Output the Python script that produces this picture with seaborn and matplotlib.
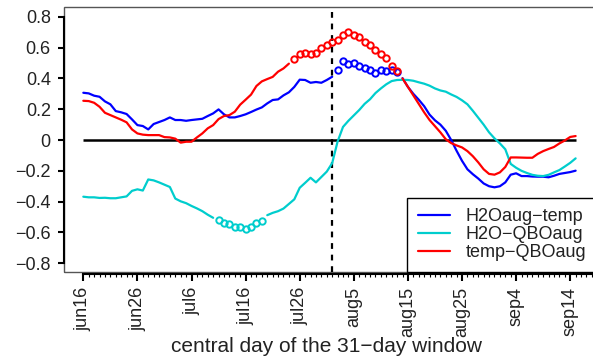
import numpy as np
import pandas as pd
import matplotlib
matplotlib.use("Agg")
import matplotlib.pyplot as plt
from matplotlib.lines import Line2D
from matplotlib.patches import Rectangle
from matplotlib.ticker import FixedLocator
import seaborn as sns

# days since jun16 (central day of the 31-day window)
days = list(range(0, 92))

h2oaug_temp = [
    0.307, 0.303, 0.288, 0.281, 0.251, 0.232, 0.188, 0.180, 0.169, 0.134,
    0.097, 0.091, 0.069, 0.104, 0.117, 0.130, 0.147, 0.130, 0.130, 0.125,
    0.130, 0.134, 0.138, 0.156, 0.173, 0.199, 0.167, 0.147, 0.147, 0.156,
    0.167, 0.182, 0.198, 0.212, 0.238, 0.260, 0.264, 0.290, 0.310, 0.345,
    0.392, 0.390, 0.372, 0.377, 0.372, 0.390, 0.411, 0.455, 0.513, 0.494,
    0.498, 0.483, 0.465, 0.455, 0.437, 0.455, 0.448, 0.455, 0.439, 0.402,
    0.345, 0.300, 0.262, 0.220, 0.165, 0.128, 0.100, 0.060, 0.000, -0.070,
    -0.135, -0.190, -0.222, -0.250, -0.282, -0.300, -0.307, -0.300, -0.275, -0.225,
    -0.216, -0.234, -0.234, -0.237, -0.238, -0.238, -0.242, -0.232, -0.220, -0.214,
    -0.208, -0.199,
]
h2o_qboaug = [
    -0.368, -0.372, -0.372, -0.376, -0.375, -0.378, -0.378, -0.372, -0.366, -0.330,
    -0.320, -0.328, -0.256, -0.262, -0.275, -0.290, -0.305, -0.380, -0.398, -0.410,
    -0.428, -0.444, -0.462, -0.485, -0.505, -0.519, -0.541, -0.548, -0.563, -0.567,
    -0.580, -0.563, -0.541, -0.524, -0.488, -0.473, -0.462, -0.445, -0.415, -0.385,
    -0.310, -0.278, -0.245, -0.275, -0.240, -0.205, -0.150, -0.010, 0.085, 0.125,
    0.160, 0.195, 0.235, 0.265, 0.305, 0.335, 0.362, 0.383, 0.390, 0.391,
    0.390, 0.385, 0.375, 0.366, 0.353, 0.335, 0.322, 0.314, 0.296, 0.280,
    0.258, 0.232, 0.190, 0.145, 0.100, 0.050, 0.011, -0.022, -0.060, -0.155,
    -0.180, -0.200, -0.214, -0.226, -0.232, -0.234, -0.226, -0.210, -0.195, -0.172,
    -0.148, -0.119,
]
temp_qboaug = [
    0.255, 0.253, 0.242, 0.216, 0.177, 0.162, 0.147, 0.132, 0.115, 0.069,
    0.043, 0.035, 0.032, 0.032, 0.032, 0.019, 0.017, 0.009, -0.017, -0.011,
    -0.011, 0.017, 0.043, 0.076, 0.097, 0.136, 0.156, 0.162, 0.184, 0.230,
    0.262, 0.295, 0.351, 0.381, 0.396, 0.410, 0.444, 0.465, 0.496, 0.524,
    0.558, 0.563, 0.556, 0.563, 0.595, 0.617, 0.639, 0.649, 0.682, 0.699,
    0.682, 0.667, 0.634, 0.617, 0.584, 0.556, 0.530, 0.481, 0.448, 0.400,
    0.345, 0.290, 0.235, 0.180, 0.130, 0.090, 0.050, 0.005, -0.020, -0.035,
    -0.048, -0.072, -0.105, -0.145, -0.190, -0.220, -0.225, -0.210, -0.175, -0.113,
    -0.113, -0.114, -0.115, -0.115, -0.090, -0.072, -0.058, -0.045, -0.022, -0.003,
    0.020, 0.026,
]

# days where the correlation is significant (drawn as circles)
h2oaug_temp_sig = list(range(47, 59))
h2o_qboaug_sig = list(range(25, 34))
temp_qboaug_sig = list(range(39, 59))

pairs = ["H2Oaug\u2212temp", "H2O\u2212QBOaug", "temp\u2212QBOaug"]
colors = ["#0000FF", "#00CDCD", "#FF0000"]

xtick_days = [0, 10, 20, 30, 40, 50, 60, 70, 80, 90]
xtick_labels = ["jun16", "jun26", "jul6", "jul16", "jul26",
                "aug5", "aug15", "aug25", "sep4", "sep14"]
yticks = [0.8, 0.6, 0.4, 0.2, 0, -0.2, -0.4, -0.6, -0.8]
ytick_labels = ["0.8", "0.6", "0.4", "0.2", "0",
                "\u22120.2", "\u22120.4", "\u22120.6", "\u22120.8"]
window_day = 46  # aug1

frames = []
for name, vals, sig in [(pairs[0], h2oaug_temp, h2oaug_temp_sig),
                        (pairs[1], h2o_qboaug, h2o_qboaug_sig),
                        (pairs[2], temp_qboaug, temp_qboaug_sig)]:
    d = pd.DataFrame({"day": days, "r": vals, "pair": name})
    d["sig"] = d["day"].isin(sig)
    d["seg"] = (d["sig"] != d["sig"].shift()).cumsum()
    frames.append(d)
df = pd.concat(frames, ignore_index=True)

sns.set_theme(style="white")
plt.rcParams["font.family"] = ["Liberation Sans", "DejaVu Sans"]

fig = plt.figure(figsize=(5.93, 3.6), dpi=100)
ax = fig.add_axes([64 / 593, 88 / 360, 533 / 593, 265 / 360])

ax.hlines(0, days[0], days[-1], color="black", lw=1.8, zorder=1)
ax.axvline(window_day, color="black", lw=1.6, ls=(0, (2.6, 2.6)), zorder=1)

palette = dict(zip(pairs, colors))
sns.lineplot(data=df[~df["sig"]], x="day", y="r", hue="pair", units="seg",
             estimator=None, palette=palette, lw=1.6, legend=False,
             sort=False, ax=ax, zorder=3)
for name in pairs:
    s = df[(df["pair"] == name) & df["sig"]]
    ax.plot(s["day"], s["r"], "o", ms=4.6, mfc="none", mec=palette[name],
            mew=1.4, zorder=4)

ax.set_xlim(-3.57, 94.95)
ax.set_ylim(-0.857, 0.864)

# frame and R-style axes
for sp in ["top", "right"]:
    ax.spines[sp].set_visible(False)
ax.add_patch(Rectangle((0, 0), 1, 1, transform=ax.transAxes, fill=False,
                       ec="#555555", lw=1.0, clip_on=False, zorder=0))
ax.spines["left"].set_bounds(-0.8, 0.8)
ax.spines["left"].set_color("black")
ax.spines["left"].set_linewidth(1.5)
ax.spines["bottom"].set_position(("outward", 1.5))
ax.spines["bottom"].set_bounds(0, 95)
ax.spines["bottom"].set_color("black")
ax.spines["bottom"].set_linewidth(1.5)

ax.set_yticks(yticks, labels=ytick_labels)
ax.set_xticks(xtick_days, labels=xtick_labels, rotation=90)
ax.xaxis.set_minor_locator(FixedLocator(list(range(0, 96))))
ax.tick_params(axis="y", which="major", direction="out", length=4.5, width=1.5,
               pad=5, labelsize=13, colors="black", left=True)
ax.tick_params(axis="x", which="major", direction="out", length=5, width=1.5,
               pad=4, labelsize=13, colors="black", bottom=True)
ax.tick_params(axis="x", which="minor", direction="out", length=2.2, width=0.8,
               colors="black", bottom=True)
for lab in ax.get_yticklabels() + ax.get_xticklabels():
    lab.set_color("#222222")
ax.set_xlabel("")
ax.set_ylabel("")
ax.grid(False)

fig.text(326.5 / 593, 1 - 347 / 360, "central day of the 31\u2212day window",
         ha="center", va="center", fontsize=15, color="#222222")

handles = [Line2D([], [], color=c, lw=1.6) for c in colors]
leg = ax.legend(handles, pairs, loc="lower right", fontsize=13, frameon=True,
                fancybox=False, edgecolor="black", framealpha=1,
                borderaxespad=0, borderpad=0.6, labelspacing=0.05,
                handlelength=1.8, handletextpad=0.85)
leg.get_frame().set_linewidth(1.0)
for t in leg.get_texts():
    t.set_color("#222222")

fig.savefig("out.png", dpi=100)
